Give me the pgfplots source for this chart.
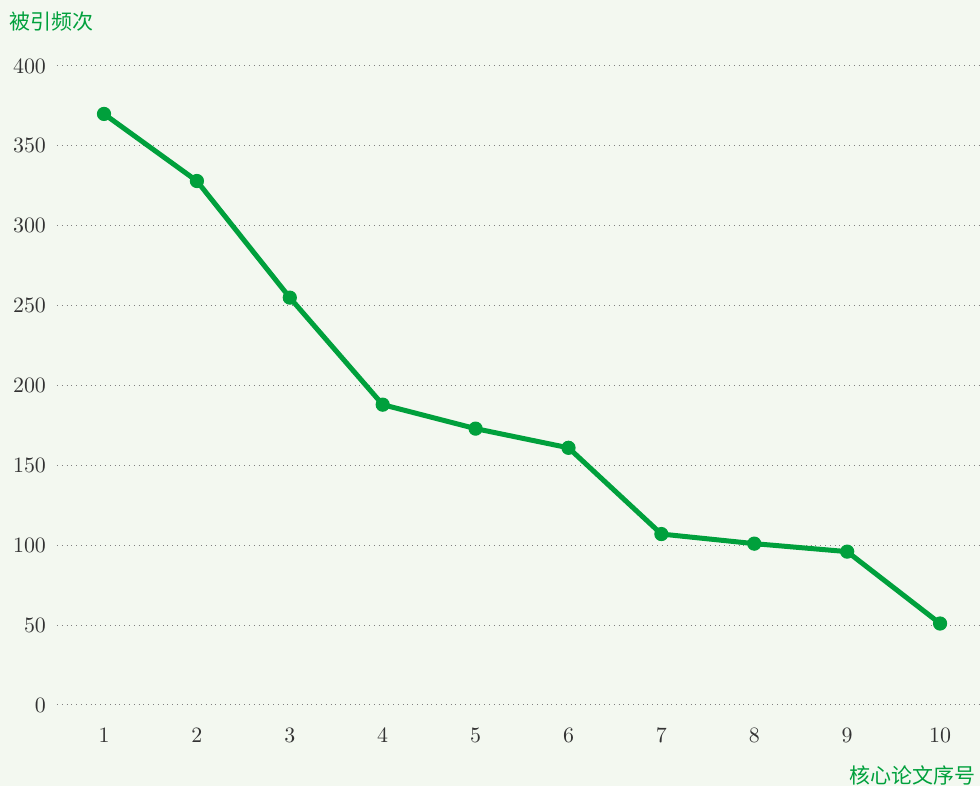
\documentclass[border=0pt]{standalone}
\usepackage{pgfplots}
\pgfplotsset{compat=1.18}
\usepackage{fontspec}
\newfontfamily\cjk{Noto Sans CJK SC}
\definecolor{bg}{HTML}{F3F8F0}
\definecolor{ln}{HTML}{00A03C}
\definecolor{tk}{HTML}{333333}
\begin{document}
\begin{tikzpicture}
\useasboundingbox (0,0) rectangle (490pt,393pt);
\fill[bg] (0,0) rectangle (490pt,393pt);
\begin{axis}[
  at={(28.5pt,40.5pt)}, anchor=south west,
  width=461.5pt, height=319.5pt, scale only axis,
  xmin=0.494, xmax=10.43, ymin=0, ymax=400,
  xtick={1,...,10}, ytick={0,50,...,400},
  axis line style={draw=none}, tick style={draw=none},
  ymajorgrids, major grid style={dotted, gray, line width=0.5pt},
  ticklabel style={font=\fontsize{11}{12}\selectfont, text=tk},
  yticklabel style={xshift=-2pt},
  xticklabel style={yshift=-8pt},
  clip=false,
]
\addplot[ln, line width=2.5pt, mark=*, mark size=3.3pt, mark options={fill=ln, draw=ln, line width=0.5pt}]
coordinates {(1,370) (2,328) (3,255) (4,188) (5,173) (6,161) (7,107) (8,101) (9,96) (10,51)};
\end{axis}
\node[anchor=west, text=ln, font=\cjk\fontsize{10.5}{12}\selectfont, inner sep=0] at (4.5pt,382pt) {被引频次};
\node[anchor=east, text=ln, font=\cjk\fontsize{10.5}{12}\selectfont, inner sep=0] at (488pt,5.5pt) {核心论文序号};
\end{tikzpicture}
\end{document}
